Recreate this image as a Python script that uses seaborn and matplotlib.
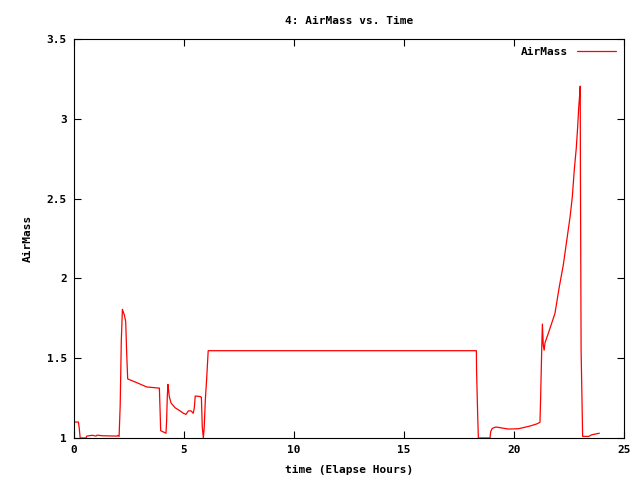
import pandas as pd
from matplotlib import pyplot as plt
import seaborn as sns

# elapsed hours and airmass
time_hours = [0.0, 0.2, 0.24, 0.28, 0.55, 0.58, 0.83, 1.0, 1.05, 1.3, 1.97, 2.0, 2.05,
              2.1, 2.15, 2.2, 2.24, 2.29, 2.35, 2.39, 2.44, 2.85, 3.3, 3.83, 3.88, 3.91,
              3.94, 4.18, 4.21, 4.24, 4.27, 4.30, 4.33, 4.41, 4.59, 4.82, 4.97, 5.09,
              5.2, 5.32, 5.42, 5.47, 5.51, 5.73, 5.79, 5.83, 5.88, 5.92, 5.97, 6.03,
              6.1, 18.29, 18.3, 18.35, 18.38, 18.91, 18.94, 19.01, 19.18, 19.44, 19.74,
              20.2, 20.42, 20.73, 21.03, 21.18, 21.21, 21.26, 21.29, 21.33, 21.37,
              21.41, 21.56, 21.71, 21.86, 22.06, 22.24, 22.39, 22.55, 22.65, 22.74,
              22.83, 22.89, 22.94, 22.99, 23.01, 23.02, 23.05, 23.12, 23.4, 23.53, 23.88]
airmass = [1.10, 1.10, 1.06, 1.0, 1.0, 1.012, 1.017, 1.012, 1.018, 1.014, 1.012, 1.016, 1.01,
           1.207, 1.608, 1.806, 1.79, 1.77, 1.73, 1.55, 1.37, 1.347, 1.32, 1.313, 1.313, 1.186,
           1.046, 1.03, 1.107, 1.26, 1.336, 1.30, 1.26, 1.22, 1.19, 1.17, 1.155, 1.148,
           1.17, 1.17, 1.155, 1.19, 1.263, 1.26, 1.255, 1.07, 1.0, 1.07, 1.24, 1.37,
           1.547, 1.547, 1.415, 1.138, 1.0, 1.0, 1.04, 1.06, 1.069, 1.063, 1.056,
           1.058, 1.065, 1.075, 1.088, 1.098, 1.249, 1.556, 1.714, 1.583, 1.55,
           1.597, 1.656, 1.718, 1.78, 1.948, 2.084, 2.23, 2.387, 2.51, 2.68,
           2.815, 2.94, 3.066, 3.16, 3.205, 2.66, 1.55, 1.01, 1.01, 1.02, 1.03]

x_ticks = [0, 5, 10, 15, 20, 25]
y_ticks = [1, 1.5, 2, 2.5, 3, 3.5]
y_tick_labels = ['1', '1.5', '2', '2.5', '3', '3.5']

df = pd.DataFrame({'time': time_hours, 'AirMass': airmass})

sns.set_style('ticks')
plt.rcParams['font.family'] = ['DejaVu Sans Mono']
plt.rcParams['font.weight'] = 'bold'
plt.rcParams['axes.labelweight'] = 'bold'
plt.rcParams['axes.titleweight'] = 'bold'
plt.rcParams['text.color'] = 'black'
plt.rcParams['axes.labelcolor'] = 'black'

fig = plt.figure(figsize=(6.4, 4.8), dpi=100)
ax = fig.add_axes([74 / 640, 1 - 438 / 480, 550 / 640, 399 / 480])

sns.lineplot(data=df, x='time', y='AirMass', color='red', linewidth=0.9,
             estimator=None, sort=False, label='AirMass', ax=ax)

ax.set_xlim(0, 25)
ax.set_ylim(1, 3.5)
ax.set_xticks(x_ticks)
ax.set_yticks(y_ticks)
ax.set_yticklabels(y_tick_labels)
ax.tick_params(direction='in', length=5, width=0.8, top=True, right=True,
               labelsize=8, pad=5, colors='black')
for spine in ax.spines.values():
    spine.set_visible(True)
    spine.set_linewidth(0.8)
    spine.set_color('black')

ax.set_xlabel('time (Elapse Hours)', fontsize=8, labelpad=7)
ax.set_ylabel('AirMass', fontsize=8, labelpad=10)
ax.set_title('4: AirMass vs. Time', fontsize=8, pad=11)

leg = ax.legend(loc='upper right', frameon=False, fontsize=8, markerfirst=False,
                handlelength=3.5, borderaxespad=0.3)

fig.savefig('out.png', dpi=100)
